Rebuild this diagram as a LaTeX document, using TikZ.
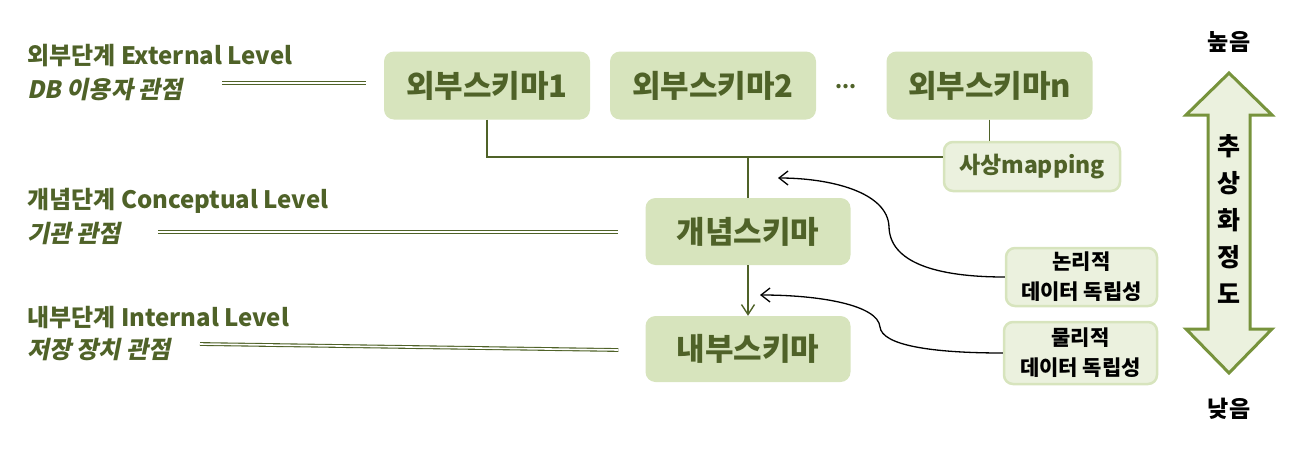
\documentclass[tikz,border=0pt]{standalone}
\usepackage{fontspec}
\setmainfont{Noto Sans CJK KR}
\newfontfamily\slantkr[FakeSlant=0.2]{Noto Sans CJK KR}
\usepackage{tikz}
\usetikzlibrary{arrows.meta, positioning}
\definecolor{olivetext}{HTML}{4F6228}
\definecolor{boxfill}{HTML}{D7E4BD}
\definecolor{palefill}{HTML}{EBF1DE}
\definecolor{arrowline}{HTML}{77933C}
\newcommand{\fs}[2]{\fontsize{#1}{#2}\selectfont}

\tikzset{
    schema/.style={rectangle, rounded corners=10pt, fill=boxfill, text=olivetext,
        minimum width=206pt, minimum height=68pt, inner sep=0pt, font=\fs{31}{36}\bfseries},
    palebox/.style={rectangle, rounded corners=9pt, fill=palefill, draw=boxfill,
        line width=2.5pt, inner sep=0pt, align=center},
    levelname/.style={anchor=west, text=olivetext, font=\fs{24}{28}\bfseries, inner sep=0pt},
    viewname/.style={anchor=west, text=olivetext, font=\fs{24}{28}\slantkr\bfseries, inner sep=0pt},
    leader/.style={draw=olivetext, line width=1.1pt, double=white, double distance=1.6pt},
    link/.style={draw=olivetext, line width=1.4pt},
    indep/.style={draw=black, line width=1.3pt, -{Straight Barb[length=9pt,width=14pt]}}
}

\begin{document}
\begin{tikzpicture}[x=1pt, y=-1pt]
    \useasboundingbox (0,0) rectangle (1303,463);

    % Level names
    \node[levelname] (extlevel) at (27,56) {외부단계 External Level};
    \node[viewname] (extview) at (27,90) {DB 이용자 관점};
    \node[levelname] (conlevel) at (27,201) {개념단계 Conceptual Level};
    \node[viewname] (conview) at (27,233) {기관 관점};
    \node[levelname] (intlevel) at (27,318) {내부단계 Internal Level};
    \node[viewname] (intview) at (27,350) {저장 장치 관점};

    % External schemas
    \node[schema] (ext1) at (487,85.5) {외부스키마1};
    \node[schema] (ext2) at (713,85.5) {외부스키마2};
    \node[text=olivetext, font=\fs{20}{24}\bfseries] (dots) at (846,87) {...};
    \node[schema] (extn) at (989.5,85.5) {외부스키마n};

    % Mapping and the two lower schemas
    \node[palebox, text=olivetext, font=\fs{23}{27}\bfseries,
        minimum width=176pt, minimum height=49pt] (map) at (1032,166.5) {사상mapping};
    \node[schema, minimum width=205pt, minimum height=67pt] (concept) at (748,231.5) {개념스키마};
    \node[schema, minimum width=205pt, minimum height=66pt] (internal) at (748,349) {내부스키마};

    % Independence boxes
    \node[palebox, font=\fs{21}{30}\bfseries, minimum width=151pt, minimum height=58pt]
        (logic) at (1081.5,277) {논리적\\데이터 독립성};
    \node[palebox, font=\fs{21}{30}\bfseries, minimum width=153pt, minimum height=62pt]
        (phys) at (1080.5,353) {물리적\\데이터 독립성};

    % Leader lines
    \coordinate (lead1) at (222,83);
    \coordinate (lead2) at (158,232);
    \coordinate (lead3) at (200,344);
    \draw[leader] (lead1) -- ([xshift=-18pt]ext1.west |- lead1);
    \draw[leader] (lead2) -- ([xshift=-27pt]concept.west |- lead2);
    \draw[leader] (lead3) -- ([xshift=-27pt,yshift=-1pt]internal.west);

    % Schema links
    \coordinate (bus) at (487,157);
    \draw[link] (ext1.south) -- (bus) -- (bus -| map.west);
    \draw[link] (bus -| concept.north) -- (concept.north);
    \draw[link] (extn.south) -- (extn.south |- map.north);
    \draw[link, -{Straight Barb[length=10pt,width=13pt]}] (concept.south) -- (internal.north);

    % Independence arrows
    \coordinate (logtip) at (778,178);
    \coordinate (phystip) at (760,295);
    \draw[indep] (logic.west) .. controls (935,277) and (890,262) .. (889,227)
        .. controls (888,192) and (830,178) .. (logtip);
    \draw[indep] (phys.west) .. controls (930,353) and (882,345) .. (880,327)
        .. controls (878,305) and (820,295) .. (phystip);

    % Abstraction arrow
    \draw[draw=arrowline, fill=palefill, line width=3pt, line join=miter]
        (1229,73) -- (1272,115) -- (1250,115) -- (1250,329) -- (1272,329)
        -- (1229,373) -- (1186,329) -- (1208,329) -- (1208,115) -- (1186,115) -- cycle;
    \foreach \ch [count=\i from 0] in {추,상,화,정,도} {
        \node[font=\fs{25}{30}\bfseries] (abs\i) at (1229,146+37*\i) {\ch};
    }
    \node[font=\fs{23}{27}\bfseries] (high) at (1229,42) {높음};
    \node[font=\fs{23}{27}\bfseries] (low) at (1229,409) {낮음};
\end{tikzpicture}
\end{document}
